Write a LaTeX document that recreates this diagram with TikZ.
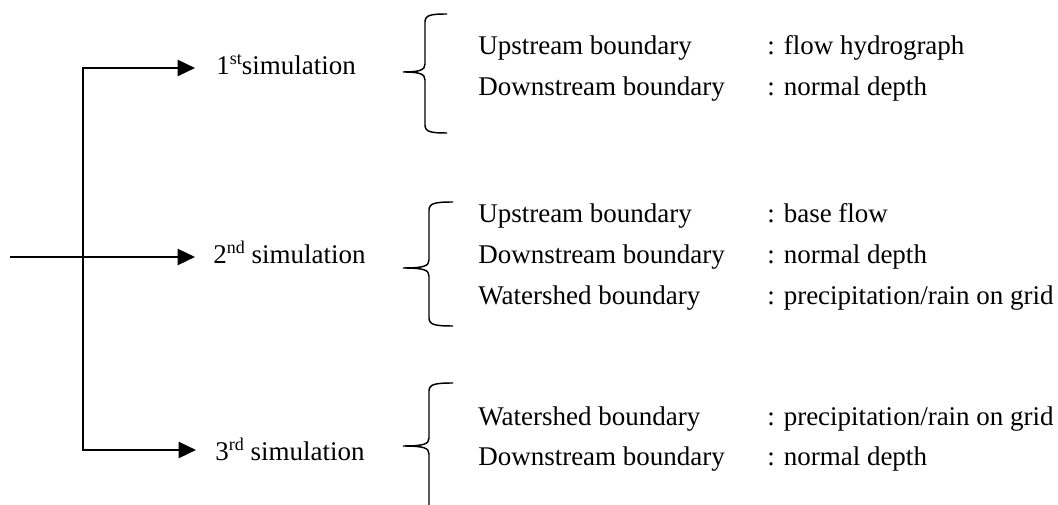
\documentclass[tikz,border=0pt]{standalone}
\usepackage{fontspec}
\setmainfont{Liberation Serif}
\usetikzlibrary{arrows.meta}
\newcommand\mysup[1]{\raisebox{7.8pt}{\fontsize{13.5}{13.5}\selectfont #1}}
\begin{document}
\begin{tikzpicture}[x=0.75pt,y=-0.75pt,
  trunk/.style={line width=1.25pt},
  feed/.style={line width=1.9pt,-{Triangle[length=13pt,width=12pt]}},
  bracestyle/.style={line width=1.1pt},
  lbl/.style={anchor=base west,inner sep=0pt,font=\fontsize{20.25}{24}\selectfont},
  simlbl/.style={anchor=base west,inner sep=0pt,font=\fontsize{20.25}{24}\selectfont}]
\useasboundingbox (0,0) rectangle (1058,505);

% trunk and arrows
\coordinate (j1) at (83,68);
\coordinate (j3) at (83,450);
\coordinate (in) at (10,257);
\coordinate (t1) at (195,68);
\coordinate (t2) at (195,257);
\coordinate (t3) at (196,450);
\draw[trunk] (j1) -- (j3);
\draw[feed] ([xshift=-0.6pt]j1) -- (t1);
\draw[feed] (in) -- (t2);
\draw[feed] ([xshift=-0.6pt]j3) -- (t3);

\node[simlbl] (s1) at (216,75) {1\mysup{st}simulation};
\node[simlbl] (s2) at (213,264) {2\mysup{nd} simulation};
\node[simlbl] (s3) at (215,461) {3\mysup{rd} simulation};

% braces
\draw[bracestyle] (447,14) .. controls (431,14) and (425,15) .. (425,22) -- (425,64)
  .. controls (425,70) and (420,72) .. (403,72)
  .. controls (420,72) and (425,74) .. (425,80) -- (425,125)
  .. controls (425,132) and (431,133) .. (447,133);
\draw[bracestyle] (453,202) .. controls (436,202) and (429,203) .. (429,210) -- (429,260)
  .. controls (429,266) and (424,268) .. (403,268)
  .. controls (424,268) and (429,270) .. (429,276) -- (429,318)
  .. controls (429,325) and (436,326) .. (453,326);
\draw[bracestyle] (453,383) .. controls (436,383) and (429,384) .. (429,391) -- (429,438)
  .. controls (429,444) and (424,446) .. (403,446)
  .. controls (424,446) and (429,448) .. (429,454) -- (429,505);

% group 1
\node[lbl] (u1) at (478,55) {Upstream boundary};
\node[lbl] (u1v) at (767,55) {: flow hydrograph};
\node[lbl] (d1) at (478,96) {Downstream boundary};
\node[lbl] (d1v) at (767,96) {: normal depth};
% group 2
\node[lbl] (u2) at (478,223) {Upstream boundary};
\node[lbl] (u2v) at (767,223) {: base flow};
\node[lbl] (d2) at (478,264) {Downstream boundary};
\node[lbl] (d2v) at (767,264) {: normal depth};
\node[lbl] (w2) at (478,305) {Watershed boundary};
\node[lbl] (w2v) at (767,305) {: precipitation/rain on grid};
% group 3
\node[lbl] (w3) at (478,426) {Watershed boundary};
\node[lbl] (w3v) at (767,426) {: precipitation/rain on grid};
\node[lbl] (d3) at (478,466) {Downstream boundary};
\node[lbl] (d3v) at (767,466) {: normal depth};
\end{tikzpicture}
\end{document}
